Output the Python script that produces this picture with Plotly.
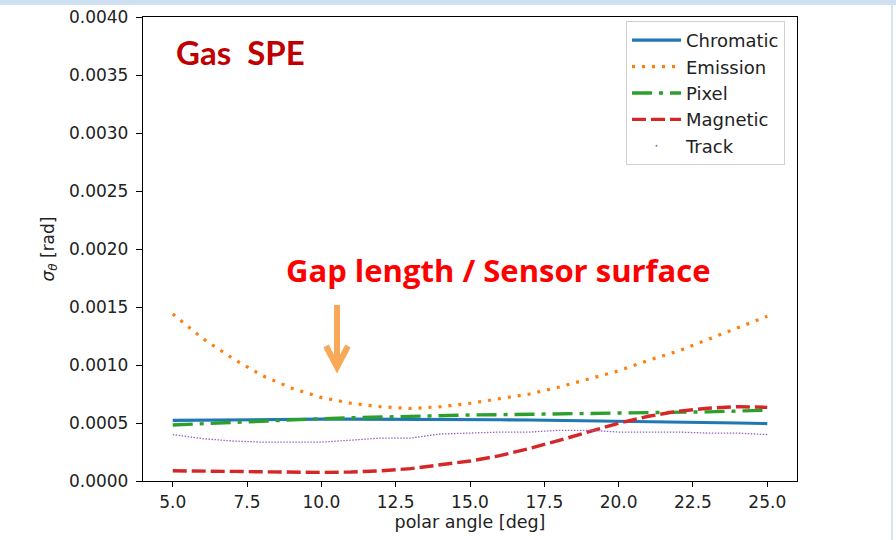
import plotly.graph_objects as go

# ---- data ----
polar_deg = [5, 6, 7, 8, 9, 10, 11, 12, 13, 14, 15, 16, 17, 18, 19, 20, 21, 22, 23, 24, 25]
chromatic = [0.000522, 0.000525, 0.000528, 0.000530, 0.000532, 0.000533, 0.000533, 0.000533,
             0.000532, 0.000531, 0.000530, 0.000528, 0.000526, 0.000523, 0.000520, 0.000517,
             0.000513, 0.000509, 0.000505, 0.000500, 0.000495]
emission = [0.00144, 0.00123, 0.00106, 0.00091, 0.00080, 0.00072, 0.00067, 0.00064, 0.000625,
            0.00064, 0.00067, 0.00071, 0.00075, 0.00081, 0.00088, 0.00095, 0.00104, 0.00112,
            0.00122, 0.00132, 0.00142]
pixel = [0.000483, 0.000495, 0.000506, 0.000516, 0.000527, 0.000537, 0.000545, 0.000552,
         0.000558, 0.000564, 0.000569, 0.000572, 0.000575, 0.000577, 0.000579, 0.000581,
         0.000585, 0.000590, 0.000596, 0.000603, 0.000610]
magnetic = [0.000088, 0.000085, 0.000082, 0.000078, 0.000075, 0.000074, 0.000077, 0.000088,
            0.000107, 0.000137, 0.000172, 0.000218, 0.000280, 0.000350, 0.000425, 0.000498,
            0.000558, 0.000601, 0.000627, 0.000641, 0.000635]
track = [0.000400, 0.000365, 0.000345, 0.000335, 0.000335, 0.000335, 0.000352, 0.000370,
         0.000370, 0.000405, 0.000413, 0.000422, 0.000422, 0.000437, 0.000437, 0.000422,
         0.000422, 0.000422, 0.000413, 0.000413, 0.000400]

x_ticks = [5.0, 7.5, 10.0, 12.5, 15.0, 17.5, 20.0, 22.5, 25.0]
y_ticks = [0.0, 0.0005, 0.0010, 0.0015, 0.0020, 0.0025, 0.0030, 0.0035, 0.0040]

X_RANGE = [4, 26]
Y_RANGE = [0, 0.004]

# plot-area geometry in page pixels
L, R, T, B = 143, 797, 17, 481
W, H = 896, 540

def px2x(px):
    return X_RANGE[0] + (px - L) / (R - L) * (X_RANGE[1] - X_RANGE[0])

def py2y(py):
    return Y_RANGE[0] + (B - py) / (B - T) * (Y_RANGE[1] - Y_RANGE[0])

TXT = "#222222"
FONT = "DejaVu Sans"

fig = go.Figure()
series = [
    ("Chromatic", chromatic, "#1f77b4", 3.2, "solid"),
    ("Emission", emission, "#ff7f0e", 3.2, "3px,7px"),
    ("Pixel", pixel, "#2ca02c", 3.4, "20px,7px,4px,7px"),
    ("Magnetic", magnetic, "#d62728", 3.4, "14px,5px"),
]
for name, vals, col, lw, dash in series:
    fig.add_trace(go.Scatter(
        x=polar_deg, y=vals, mode="lines", name=name,
        line=dict(color=col, width=lw, dash=dash),
    ))
# Track: thin dotted line; its legend entry is a single tiny dot as in the reference
fig.add_trace(go.Scatter(
    x=polar_deg, y=track, mode="lines", name="Track", showlegend=False,
    line=dict(color="#9467bd", width=1.3, dash="1.5px,1.5px"),
))
fig.add_trace(go.Scatter(
    x=[None], y=[None], mode="markers", name="Track",
    marker=dict(color="#9467bd", size=2, line=dict(width=0)),
))

# arrow (shaft + chevron head)
tip_x, tip_y = 337, 367
fig.add_shape(type="line", xref="x", yref="y",
              x0=px2x(tip_x), x1=px2x(tip_x), y0=py2y(305), y1=py2y(tip_y - 4),
              line=dict(color="#F8A958", width=6))
fig.add_shape(type="path", xref="x", yref="y",
              path=f"M{px2x(tip_x-11)},{py2y(tip_y-21)} L{px2x(tip_x)},{py2y(tip_y)} L{px2x(tip_x+11)},{py2y(tip_y-21)}",
              line=dict(color="#F8A958", width=6))

# light-blue slide frame remnants
fig.add_shape(type="rect", xref="paper", yref="paper",
              x0=(0 - L) / (R - L), x1=(W - L) / (R - L),
              y0=1 + (T - 5) / (B - T), y1=1 + (T + 2) / (B - T),
              fillcolor="#cfe0f2", line=dict(width=0), layer="below")
fig.add_shape(type="rect", xref="paper", yref="paper",
              x0=(891 - L) / (R - L), x1=(893 - L) / (R - L),
              y0=1 + (T - 540) / (B - T), y1=1 + (T - 5) / (B - T),
              fillcolor="#d6e4f3", line=dict(width=0), layer="below")

fig.add_annotation(text="Gas\u00a0\u00a0SPE", xref="paper", yref="paper",
                   x=(174 - L) / (R - L), y=1 - (52 - T) / (B - T),
                   xanchor="left", yanchor="middle", showarrow=False,
                   font=dict(family="Lato", size=33, color="#C00000", weight="bold"))
fig.add_annotation(text="Gap length / Sensor surface", xref="paper", yref="paper",
                   x=(498 - L) / (R - L), y=1 - (270 - T) / (B - T),
                   xanchor="center", yanchor="middle", showarrow=False,
                   font=dict(family="Open Sans", size=31, color="#FF0000", weight="bold"))

fig.update_layout(
    width=W, height=H,
    margin=dict(l=L, r=W - R, t=T, b=H - B, autoexpand=False),
    paper_bgcolor="white", plot_bgcolor="white",
    font=dict(family=FONT, size=17, color=TXT),
    showlegend=True,
    legend=dict(
        x=(626 - L) / (R - L), y=1 - (21 - T) / (B - T), xanchor="left", yanchor="top",
        bgcolor="white", bordercolor="#d0d0d0", borderwidth=1,
        font=dict(family=FONT, size=18, color=TXT),
        traceorder="normal", itemwidth=49,
    ),
    xaxis=dict(
        range=X_RANGE, tickvals=x_ticks, ticktext=[f"{v:.1f}" for v in x_ticks],
        showgrid=False, zeroline=False, showline=True, linecolor="black", linewidth=1.3,
        mirror=True, ticks="outside", ticklen=5, tickwidth=1.3, tickcolor="black",
        tickfont=dict(family=FONT, size=17, color=TXT),
        title=dict(text="polar angle [deg]", font=dict(family=FONT, size=17.5, color=TXT), standoff=5),
    ),
    yaxis=dict(
        range=Y_RANGE, tickvals=y_ticks, ticktext=[f"{v:.4f}" for v in y_ticks],
        showgrid=False, zeroline=False, showline=True, linecolor="black", linewidth=1.3,
        mirror=True, ticks="outside", ticklen=6, tickwidth=1.3, tickcolor="black",
        ticklabelstandoff=4,
        tickfont=dict(family=FONT, size=17, color=TXT),
        title=dict(text="<i>σ</i><sub><i>θ</i></sub> [rad]", font=dict(family=FONT, size=17, color=TXT), standoff=10),
    ),
)

fig.write_html("out.html")
